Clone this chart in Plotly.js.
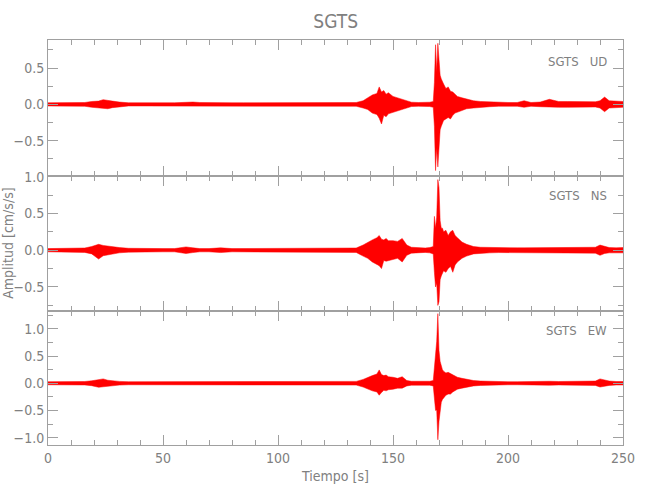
<!DOCTYPE html>
<html>
<head>
<meta charset="utf-8">
<script src="https://cdn.plot.ly/plotly-3.0.1.min.js"></script>
<style>html,body{margin:0;padding:0;background:#fff;}#chart{width:650px;height:500px;}</style>
</head>
<body>
<div id="chart"></div>
<script>
// Time knots [s] and min/max envelopes of each acceleration component (cm/s/s)
const time = [0,4,8,12,16,19,22,24,26,28,31,35,40,45,50,55,60,63,66,70,75,80,85,90,95,100,105,110,115,120,125,130,134,137,139,141,143,144,145,146,147,148,150,152,154,156,158,161,164,166,167.5,168,168.5,169,169.5,170,170.5,171,171.5,172,173,174,175,176,177,178,180,182,185,188,192,196,200,204,207,210,214,218,222,226,230,234,238,240,242,244,247,250];

const udMax = [0.022,0.022,0.026,0.022,0.026, 0.04,0.045,0.065,0.05,0.045, 0.032,0.022,0.022,0.026,0.022, 0.022,0.032,0.032,0.026,0.022, 0.022,0.022,0.022,0.022,0.022, 0.022,0.022,0.022,0.026,0.022, 0.022,0.022,0.026,0.05,0.09, 0.13,0.15,0.24,0.17,0.19, 0.14,0.16,0.11,0.09,0.06, 0.04,0.03,0.026,0.026,0.03, 0.04,0.3,0.82,0.45,0.84, 0.55,0.4,0.35,0.3,0.28, 0.22,0.24,0.18,0.17,0.14, 0.11,0.09,0.07,0.05,0.04, 0.032,0.026,0.026,0.026,0.05, 0.026,0.032,0.07,0.04,0.04, 0.036,0.032,0.036,0.05,0.1, 0.05,0.04,0.04];
const udMin = [-0.022,-0.022,-0.022,-0.022,-0.026, -0.04,-0.045,-0.05,-0.06,-0.045, -0.032,-0.022,-0.022,-0.022,-0.022, -0.022,-0.026,-0.032,-0.022,-0.022, -0.022,-0.022,-0.022,-0.026,-0.022, -0.022,-0.022,-0.022,-0.022,-0.022, -0.022,-0.022,-0.026,-0.05,-0.07, -0.12,-0.14,-0.19,-0.27,-0.15, -0.17,-0.13,-0.11,-0.08,-0.06, -0.04,-0.03,-0.026,-0.026,-0.03, -0.04,-0.3,-0.91,-0.6,-0.86, -0.5,-0.35,-0.3,-0.25,-0.22, -0.2,-0.18,-0.2,-0.15,-0.12, -0.11,-0.08,-0.06,-0.05,-0.04, -0.032,-0.026,-0.026,-0.026,-0.04, -0.026,-0.032,-0.04,-0.04,-0.04, -0.036,-0.032,-0.036,-0.05,-0.1, -0.05,-0.04,-0.04];

const nsMax = [0.022,0.022,0.022,0.022,0.03, 0.05,0.08,0.065,0.055,0.045, 0.036,0.026,0.022,0.022,0.022, 0.022,0.045,0.032,0.022,0.022, 0.032,0.022,0.022,0.022,0.022, 0.022,0.03,0.022,0.022,0.022, 0.022,0.022,0.03,0.07,0.11, 0.14,0.17,0.2,0.15,0.14, 0.16,0.13,0.13,0.12,0.16, 0.07,0.04,0.03,0.03,0.036, 0.05,0.46,0.3,0.45,0.96, 0.85,0.4,0.3,0.3,0.25, 0.27,0.2,0.25,0.27,0.2, 0.17,0.11,0.08,0.05,0.04, 0.036,0.032,0.032,0.032,0.032, 0.032,0.032,0.036,0.032,0.036, 0.04,0.032,0.04,0.07,0.05, 0.036,0.032,0.036];
const nsMin = [-0.022,-0.022,-0.026,-0.022,-0.03, -0.05,-0.12,-0.075,-0.065,-0.05, -0.036,-0.026,-0.022,-0.022,-0.022, -0.022,-0.045,-0.032,-0.022,-0.022, -0.032,-0.022,-0.022,-0.022,-0.022, -0.022,-0.03,-0.022,-0.022,-0.022, -0.022,-0.022,-0.03,-0.08,-0.11, -0.16,-0.19,-0.21,-0.25,-0.14, -0.15,-0.14,-0.12,-0.11,-0.16, -0.07,-0.04,-0.03,-0.03,-0.036, -0.05,-0.3,-0.5,-0.45,-0.75, -0.7,-0.4,-0.35,-0.3,-0.28, -0.3,-0.25,-0.22,-0.3,-0.2, -0.16,-0.11,-0.08,-0.05,-0.04, -0.036,-0.032,-0.032,-0.032,-0.032, -0.032,-0.032,-0.036,-0.032,-0.036, -0.04,-0.032,-0.04,-0.07,-0.045, -0.036,-0.032,-0.036];

const ewMax = [0.028,0.028,0.028,0.028,0.032, 0.045,0.065,0.08,0.055,0.045, 0.034,0.028,0.028,0.028,0.028, 0.028,0.034,0.034,0.028,0.028, 0.028,0.028,0.028,0.028,0.028, 0.028,0.028,0.028,0.028,0.028, 0.028,0.028,0.034,0.07,0.11, 0.14,0.17,0.245,0.16,0.14, 0.15,0.12,0.11,0.09,0.12, 0.05,0.036,0.032,0.032,0.036, 0.05,0.3,0.5,0.77,1.28, 0.6,0.4,0.3,0.25,0.22, 0.19,0.2,0.18,0.15,0.14, 0.11,0.09,0.07,0.05,0.04, 0.032,0.032,0.028,0.028,0.032, 0.028,0.032,0.036,0.032,0.032, 0.032,0.032,0.04,0.08,0.06, 0.04,0.032,0.032];
const ewMin = [-0.028,-0.028,-0.028,-0.028,-0.032, -0.045,-0.075,-0.065,-0.055,-0.045, -0.034,-0.028,-0.028,-0.028,-0.028, -0.028,-0.034,-0.034,-0.028,-0.028, -0.028,-0.028,-0.028,-0.028,-0.028, -0.028,-0.028,-0.028,-0.028,-0.028, -0.028,-0.028,-0.034,-0.07,-0.11, -0.14,-0.16,-0.22,-0.17,-0.13, -0.14,-0.12,-0.11,-0.09,-0.09, -0.05,-0.036,-0.032,-0.032,-0.036, -0.05,-0.3,-0.5,-0.49,-1.04, -0.7,-0.45,-0.35,-0.3,-0.27, -0.22,-0.2,-0.2,-0.16,-0.13, -0.11,-0.09,-0.07,-0.05,-0.04, -0.032,-0.032,-0.028,-0.028,-0.032, -0.028,-0.032,-0.036,-0.032,-0.032, -0.032,-0.032,-0.04,-0.07,-0.05, -0.04,-0.032,-0.032];

const stationName = "SGTS";
const components = ["UD", "NS", "EW"];
const xTitle = "Tiempo [s]";
const yTitle = "Amplitud [cm/s/s]";

const FONT = "Liberation Sans Narrow, DejaVu Sans Condensed, Arial Narrow, sans-serif";
const LINE = "#a0a0a0";
const TXT = "#808080";
const RED = "#ff0000";

const series = [[udMax, udMin], [nsMax, nsMin], [ewMax, ewMin]];
const traces = [];
series.forEach((s, i) => {
  const xa = i === 0 ? "x" : "x" + (i + 1);
  const ya = i === 0 ? "y" : "y" + (i + 1);
  traces.push({x: time, y: s[0], xaxis: xa, yaxis: ya, type: "scatter", mode: "lines",
    line: {color: RED, width: 0.5}, hoverinfo: "skip", showlegend: false});
  traces.push({x: time, y: s[1], xaxis: xa, yaxis: ya, type: "scatter", mode: "lines",
    line: {color: RED, width: 0.5}, fill: "tonexty", fillcolor: RED, hoverinfo: "skip", showlegend: false});
});

function xAxis(anchor, showLabels) {
  return {
    anchor: anchor, range: [0, 250], showgrid: false, zeroline: false,
    showline: true, linecolor: LINE, linewidth: 1, mirror: "ticks",
    ticks: "inside", ticklen: 10, tickcolor: LINE, tickwidth: 1, dtick: 50, tick0: 0,
    minor: {dtick: 10, ticks: "inside", ticklen: 5, tickcolor: LINE, tickwidth: 1, showgrid: false},
    showticklabels: showLabels, tickfont: {family: FONT, size: 14, color: TXT}
  };
}
function yAxis(anchor, domain, range) {
  return {
    anchor: anchor, domain: domain, range: range, showgrid: false, zeroline: false,
    showline: true, linecolor: LINE, linewidth: 1, mirror: "ticks",
    ticks: "inside", ticklen: 10, tickcolor: LINE, tickwidth: 1, dtick: 0.5, tick0: 0,
    minor: {dtick: 0.25, ticks: "inside", ticklen: 5, tickcolor: LINE, tickwidth: 1, showgrid: false},
    tickformat: ".1f", tickfont: {family: FONT, size: 14, color: TXT}
  };
}

const layout = {
  width: 650, height: 500,
  margin: {l: 48, r: 27, t: 40, b: 55},
  paper_bgcolor: "#ffffff", plot_bgcolor: "#ffffff",
  font: {family: FONT, color: TXT},
  title: {text: stationName, x: 0.5165, xanchor: "center", y: 0.958, yanchor: "middle",
          font: {family: FONT, size: 19, color: TXT}},
  xaxis: xAxis("y", false),
  xaxis2: xAxis("y2", false),
  xaxis3: Object.assign(xAxis("y3", true), {title: {text: xTitle, standoff: 6, font: {family: FONT, size: 14, color: TXT}}}),
  yaxis: yAxis("x", [0.665, 1], [-0.98, 0.885]),
  yaxis2: Object.assign(yAxis("x2", [0.332, 0.665], [-0.82, 1.013]),
           {title: {text: yTitle, standoff: 8, font: {family: FONT, size: 14, color: TXT}}}),
  yaxis3: yAxis("x3", [0, 0.332], [-1.136, 1.337]),
  annotations: components.map((c, i) => ({
    text: stationName + "\u00a0\u00a0\u00a0" + c,
    xref: "paper", yref: "paper", x: 0.976, xanchor: "right",
    y: [0.948, 0.615, 0.282][i], yanchor: "middle", showarrow: false,
    font: {family: FONT, size: 13, color: TXT}
  }))
};

Plotly.newPlot("chart", traces, layout, {staticPlot: true, displayModeBar: false});
</script>
</body>
</html>
